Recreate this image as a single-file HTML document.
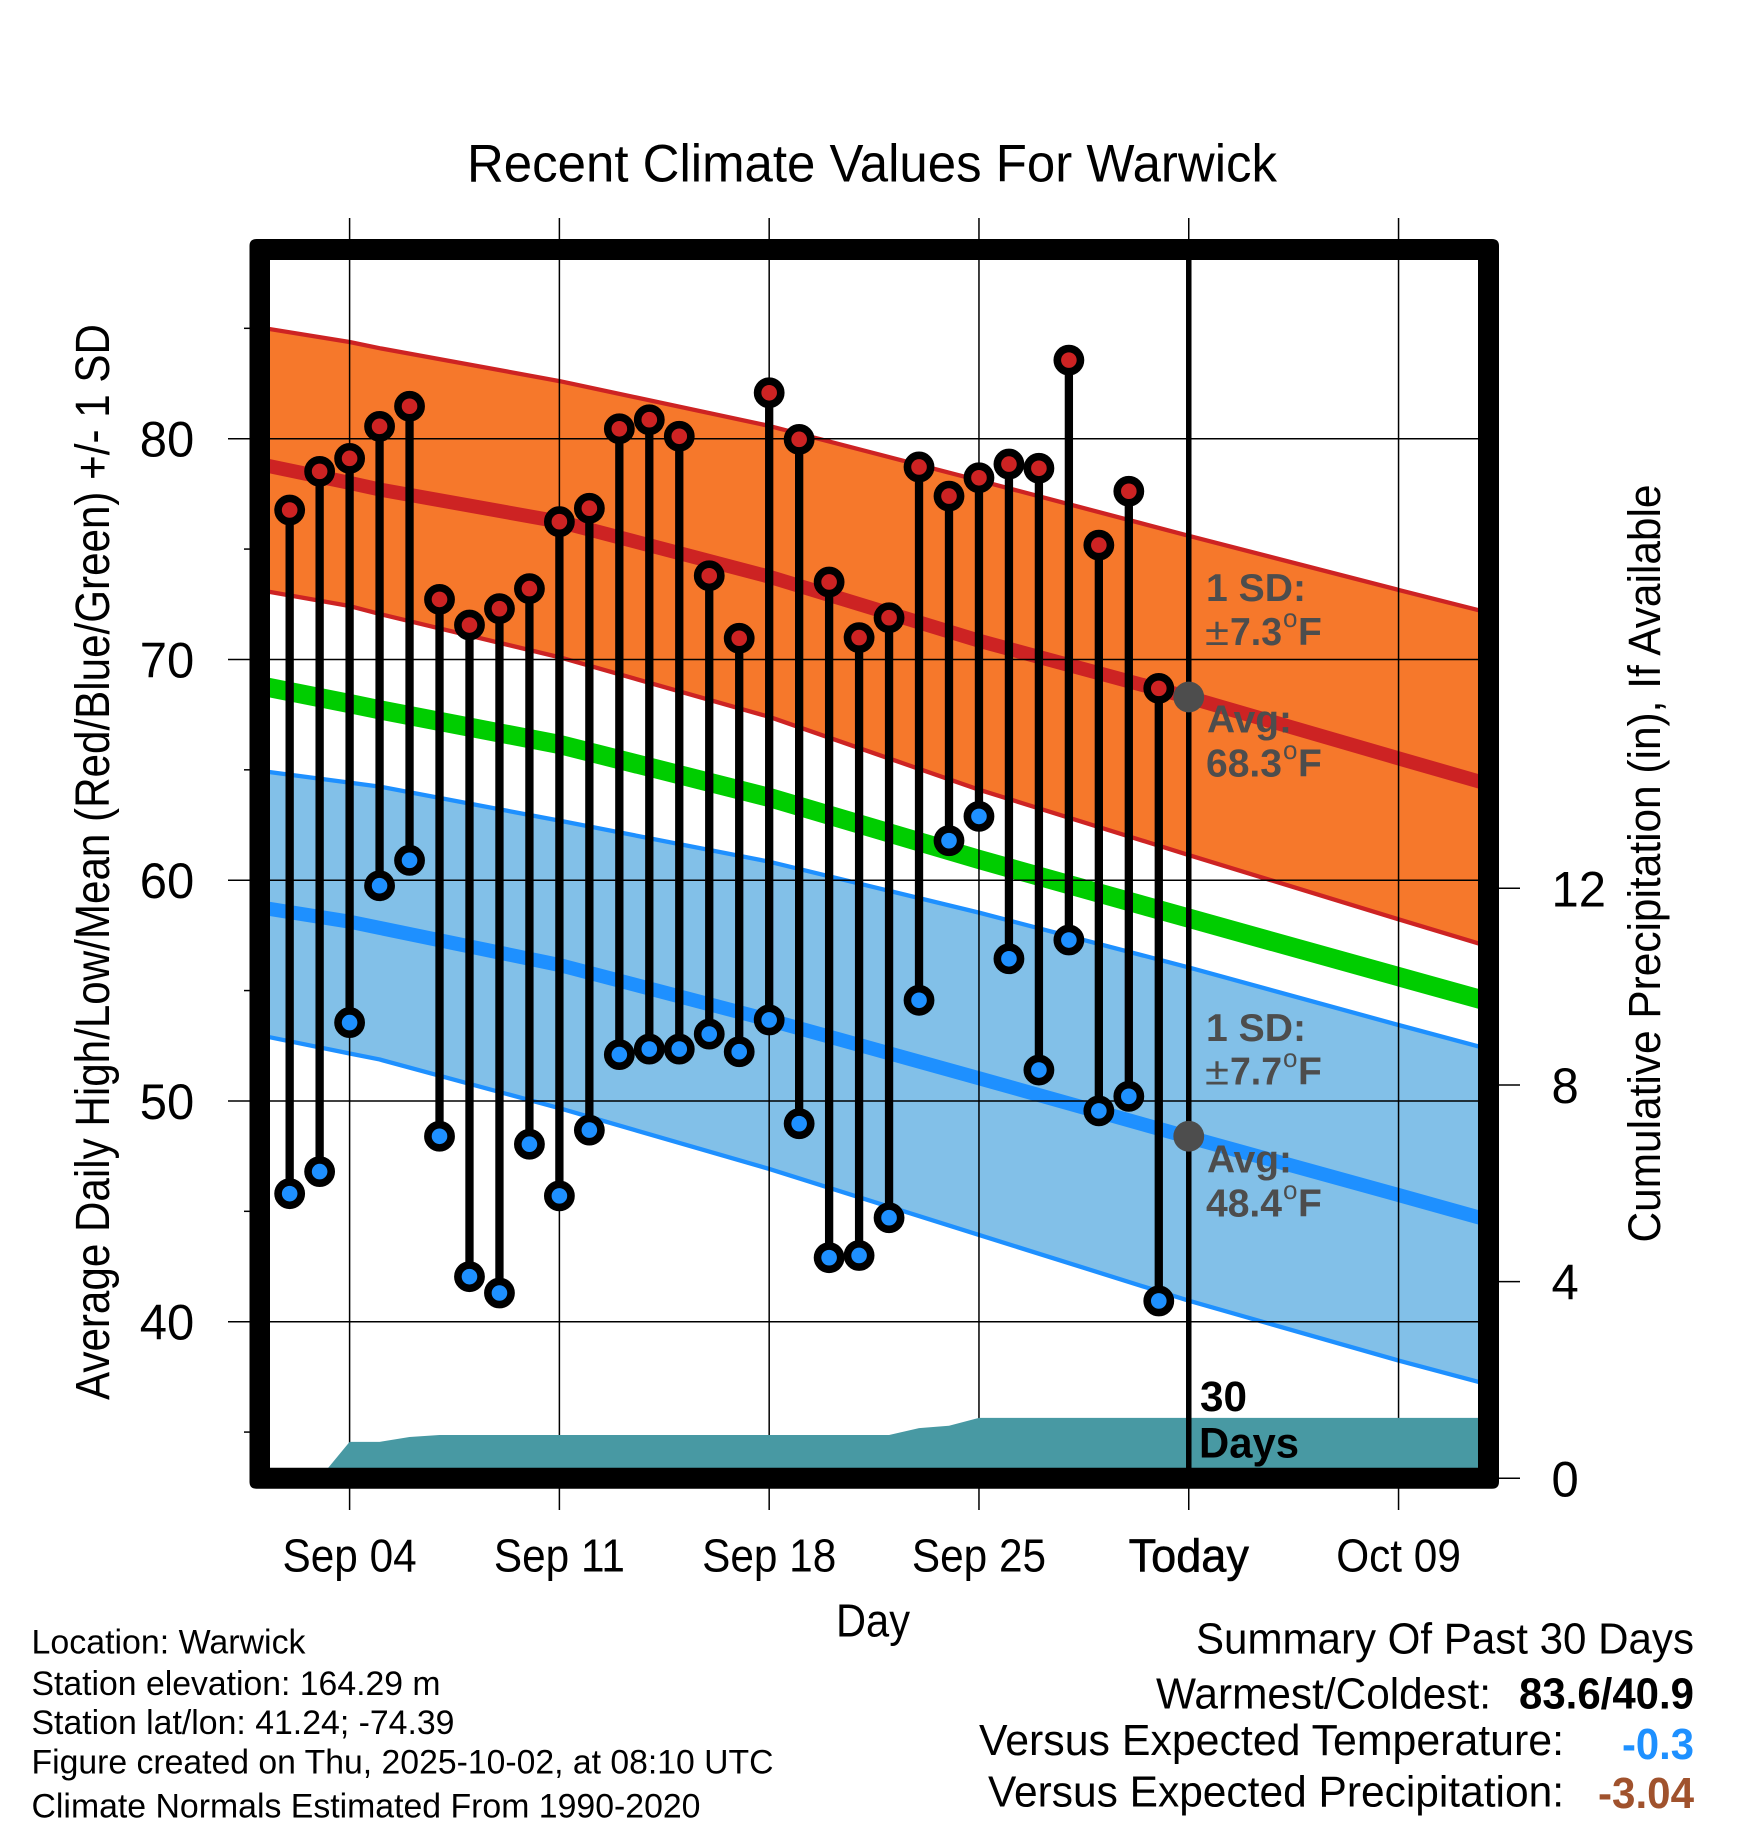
<!DOCTYPE html>
<html lang="en">
<head>
<meta charset="utf-8">
<title>Recent Climate Values For Warwick</title>
<style>
html,body{margin:0;padding:0;background:#fff;}
svg{display:block;}
text{font-family:"Liberation Sans",Arial,sans-serif;fill:#000;}
.b{font-weight:bold;}
.g{fill:#4d4d4d;font-weight:bold;font-size:39px;}
</style>
</head>
<body>
<svg id="chart" xmlns="http://www.w3.org/2000/svg" width="1748" height="1828" viewBox="0 0 1748 1828">
<rect x="0" y="0" width="1748" height="1828" fill="#fff"/>
<g id="bands"></g>
<g id="grid"></g>
<g id="precip"></g>
<g id="today"></g>
<g id="obs"></g>
<g id="frame">
<path fill="#000" fill-rule="evenodd" d="M256.5 239H1492Q1499 239 1499 246V1481.7Q1499 1488.7 1492 1488.7H256.5Q249.5 1488.7 249.5 1481.7V246Q249.5 239 256.5 239ZM270 260V1467.7H1478V260Z"/>
</g>
<g id="ticks"></g>
<g id="labels"></g>

<text x="467" y="181.7" font-size="53" textLength="810" lengthAdjust="spacingAndGlyphs">Recent Climate Values For Warwick</text>
<text transform="translate(109,1400) rotate(-90)" font-size="48" textLength="1076" lengthAdjust="spacingAndGlyphs">Average Daily High/Low/Mean (Red/Blue/Green) +/- 1 SD</text>
<text transform="translate(1660,1242.5) rotate(-90)" font-size="45" textLength="758" lengthAdjust="spacingAndGlyphs">Cumulative Precipitation (in), If Available</text>
<text x="836" y="1636.7" font-size="46" textLength="74" lengthAdjust="spacingAndGlyphs">Day</text>

<g>
<text class="g" x="1206" y="601" textLength="100" lengthAdjust="spacingAndGlyphs">1 SD:</text>
<text class="g" x="1205" y="645" style="font-weight:normal" textLength="24" lengthAdjust="spacingAndGlyphs">±</text>
<text class="g" x="1230" y="645" textLength="52" lengthAdjust="spacingAndGlyphs">7.3</text>
<text class="g" x="1283" y="627" style="font-weight:normal;font-size:26px">o</text>
<text class="g" x="1298" y="645">F</text>
<text class="g" x="1207" y="732.7" textLength="85" lengthAdjust="spacingAndGlyphs">Avg:</text>
<text class="g" x="1206" y="776.7" textLength="76" lengthAdjust="spacingAndGlyphs">68.3</text>
<text class="g" x="1283" y="759" style="font-weight:normal;font-size:26px">o</text>
<text class="g" x="1298" y="776.7">F</text>
</g>
<g>
<text class="g" x="1206" y="1041" textLength="100" lengthAdjust="spacingAndGlyphs">1 SD:</text>
<text class="g" x="1205" y="1084.3" style="font-weight:normal" textLength="24" lengthAdjust="spacingAndGlyphs">±</text>
<text class="g" x="1230" y="1084.3" textLength="52" lengthAdjust="spacingAndGlyphs">7.7</text>
<text class="g" x="1283" y="1067" style="font-weight:normal;font-size:26px">o</text>
<text class="g" x="1298" y="1084.3">F</text>
<text class="g" x="1207" y="1172.7" textLength="85" lengthAdjust="spacingAndGlyphs">Avg:</text>
<text class="g" x="1206" y="1216.7" textLength="76" lengthAdjust="spacingAndGlyphs">48.4</text>
<text class="g" x="1283" y="1199" style="font-weight:normal;font-size:26px">o</text>
<text class="g" x="1298" y="1216.7">F</text>
</g>
<text class="b" x="1200" y="1411" font-size="43" textLength="47" lengthAdjust="spacingAndGlyphs">30</text>
<text class="b" x="1199" y="1457.7" font-size="43" textLength="100" lengthAdjust="spacingAndGlyphs">Days</text>

<g font-size="34">
<text x="31.5" y="1653.5" textLength="274" lengthAdjust="spacingAndGlyphs">Location: Warwick</text>
<text x="31.5" y="1695" textLength="409" lengthAdjust="spacingAndGlyphs">Station elevation: 164.29 m</text>
<text x="31.5" y="1734" textLength="423" lengthAdjust="spacingAndGlyphs">Station lat/lon: 41.24; -74.39</text>
<text x="31.5" y="1773.5" textLength="742" lengthAdjust="spacingAndGlyphs">Figure created on Thu, 2025-10-02, at 08:10 UTC</text>
<text x="31.5" y="1817.3" textLength="669" lengthAdjust="spacingAndGlyphs">Climate Normals Estimated From 1990-2020</text>
</g>
<g font-size="44">
<text x="1196" y="1653.3" textLength="498" lengthAdjust="spacingAndGlyphs">Summary Of Past 30 Days</text>
<text x="1156" y="1708.3" textLength="335" lengthAdjust="spacingAndGlyphs">Warmest/Coldest:</text>
<text class="b" x="1519" y="1708.3" textLength="175" lengthAdjust="spacingAndGlyphs">83.6/40.9</text>
<text x="979" y="1755" textLength="585" lengthAdjust="spacingAndGlyphs">Versus Expected Temperature:</text>
<text class="b" x="1622" y="1759" textLength="72" lengthAdjust="spacingAndGlyphs" style="fill:#1e90ff">-0.3</text>
<text x="988" y="1806.7" textLength="576" lengthAdjust="spacingAndGlyphs">Versus Expected Precipitation:</text>
<text class="b" x="1598" y="1808" textLength="96" lengthAdjust="spacingAndGlyphs" style="fill:#a0522d">-3.04</text>
</g>
</svg>
<script>
// Observed days are day-of-September numbers (Oct 1 = 31).
var obsDays = [2,3,4,5,6,7,8,9,10,11,12,13,14,15,16,17,18,19,20,21,22,23,24,25,26,27,28,29,30,31];
var dailyHigh = [76.77,78.52,79.11,80.56,81.47,72.72,71.56,72.30,73.21,76.24,76.85,80.45,80.86,80.11,73.79,70.96,82.08,79.97,73.51,70.99,71.89,78.72,77.40,78.23,78.85,78.66,83.56,75.18,77.62,68.69];
var dailyLow = [45.8,46.8,53.55,59.75,60.90,48.40,42.04,41.3,48.04,45.7,48.68,52.10,52.35,52.35,53.03,52.23,53.67,48.97,42.9,43.0,44.71,54.56,61.79,62.89,56.44,51.40,57.29,49.55,50.21,40.94];

var normalDays = [1,4,5,11,18,25,32,39,42];
var highUpper = [85.04,84.38,84.1,82.61,80.58,78.11,75.6,73.15,72.12];
var highMean = [78.85,78.0,77.7,76.24,73.75,70.85,68.28,65.52,64.35];
var highLower = [73.14,72.42,72.06,70.1,67.4,64.1,61.14,58.23,57.0];
var meanTemp = [68.81,68.0,67.72,66.15,63.75,60.94,58.28,55.63,54.5];
var lowUpper = [64.96,64.42,64.24,62.7,60.84,58.53,56.05,53.44,52.35];
var lowMean = [58.77,58.12,57.84,56.16,53.67,51.03,48.36,45.74,44.6];
var lowLower = [52.98,52.15,51.88,49.67,46.92,43.93,40.95,38.24,37.15];

var precipDays = [1,3,4,5,6,7,22,23,24,25,42];
var precipValues = [0,0,0.74,0.74,0.84,0.88,0.88,1.02,1.07,1.23,1.23];

var xTickDays = [4,11,18,25,32,39];
var xTickLabels = ["Sep 04","Sep 11","Sep 18","Sep 25","Today","Oct 09"];
var yMajorTicks = [40,50,60,70,80];
var yMinorTicks = [35,45,55,65,75,85];
var precipTicks = [0,4,8,12];
var todayDay = 32;
var todayHighMean = 68.3;
var todayLowMean = 48.4;

function xScale(d){ return 349.6 + (d - 4) * 29.97; }
function yTemp(v){ return 438.7 + (80 - v) * 22.075; }
function yPrecip(v){ return 1478.3 - v * 49.17; }

var NS = "http://www.w3.org/2000/svg";
function make(tag, attrs, parentId){
  var el = document.createElementNS(NS, tag);
  for (var k in attrs) el.setAttribute(k, attrs[k]);
  document.getElementById(parentId).appendChild(el);
  return el;
}
function pointsOf(days, vals, yFn){
  return days.map(function(d,i){ return xScale(d).toFixed(2) + "," + yFn(vals[i]).toFixed(2); });
}
function bandPoints(up, lo){
  return pointsOf(normalDays, up, yTemp).concat(pointsOf(normalDays, lo, yTemp).reverse()).join(" ");
}
function normalLine(vals, color, width){
  return make("polyline", {points: pointsOf(normalDays, vals, yTemp).join(" "), fill:"none", stroke:color, "stroke-width":width, "stroke-linejoin":"round"}, "bands");
}

var el;
el = make("polygon", {points: bandPoints(highUpper, highLower), fill:"#f6782b"}, "bands");


el = make("polygon", {points: bandPoints(lowUpper, lowLower), fill:"#82c0e8"}, "bands");


el = normalLine(highUpper, "#cd2323", 4.3);


el = normalLine(highLower, "#cd2323", 4.3);


el = normalLine(highMean, "#cd2323", 14);


el = normalLine(meanTemp, "#00cd00", 19.2);


el = normalLine(lowUpper, "#1e90ff", 4.3);


el = normalLine(lowLower, "#1e90ff", 4.3);


el = normalLine(lowMean, "#1e90ff", 14);



yMajorTicks.forEach(function(v){
  var y = yTemp(v);
  var g = make("line", {x1:270, x2:1478, y1:y, y2:y, stroke:"#000", "stroke-width":1.5}, "grid");
  
  
  var t = make("line", {x1:228, x2:250, y1:y, y2:y, stroke:"#000", "stroke-width":1.5}, "ticks");
  
  
  var l = make("text", {transform:"translate(167," + (y + 18) + ") scale(0.98,1)", "text-anchor":"middle", "font-size":50}, "labels");
  
  
  l.textContent = String(v);
});
yMinorTicks.forEach(function(v){
  var y = yTemp(v);
  var t = make("line", {x1:244, x2:250, y1:y, y2:y, stroke:"#000", "stroke-width":1.5}, "ticks");
  
  
});
xTickDays.forEach(function(d,i){
  var x = xScale(d);
  var g = make("line", {x1:x, x2:x, y1:260, y2:1467.7, stroke:"#000", "stroke-width":1.5}, "grid");
  
  
  var t1 = make("line", {x1:x, x2:x, y1:218, y2:240, stroke:"#000", "stroke-width":1.5}, "ticks");
  
  
  var t2 = make("line", {x1:x, x2:x, y1:1488, y2:1510, stroke:"#000", "stroke-width":1.5}, "ticks");
  
  
  var isToday = d === todayDay;
  var l = make("text", {transform:"translate(" + x + ",1571.7) scale(" + (isToday ? 0.98 : 0.92) + ",1)", "text-anchor":"middle", "font-size":46}, "labels");
  
  
  l.textContent = xTickLabels[i];
  if (isToday) { l.setAttribute("stroke", "#000"); l.setAttribute("stroke-width", "0.6"); }
});
precipTicks.forEach(function(v){
  var y = yPrecip(v);
  var t = make("line", {x1:1499, x2:1520, y1:y, y2:y, stroke:"#000", "stroke-width":1.5}, "ticks");
  
  
  var l = make("text", {transform:"translate(1551.5," + (y + 18) + ") scale(0.98,1)", "font-size":50}, "labels");
  
  
  l.textContent = String(v);
});

var precipPts = pointsOf(precipDays, precipValues, yPrecip);
precipPts.push(xScale(precipDays[precipDays.length-1]).toFixed(2) + "," + yPrecip(0).toFixed(2));
precipPts.push(xScale(precipDays[0]).toFixed(2) + "," + yPrecip(0).toFixed(2));
el = make("polygon", {points: precipPts.join(" "), fill:"#4899a3"}, "precip");



el = make("line", {x1:xScale(todayDay), x2:xScale(todayDay), y1:260, y2:1468, stroke:"#000", "stroke-width":5.5}, "today");



obsDays.forEach(function(d,i){
  var x = xScale(d);
  var s = make("line", {x1:x, x2:x, y1:yTemp(dailyHigh[i]), y2:yTemp(dailyLow[i]), stroke:"#000", "stroke-width":8.3}, "obs");
  
  
  var h = make("circle", {cx:x, cy:yTemp(dailyHigh[i]), r:11.6, fill:"#cd2323", stroke:"#000", "stroke-width":7.6}, "obs");
  
  
  var b = make("circle", {cx:x, cy:yTemp(dailyLow[i]), r:11.6, fill:"#1e90ff", stroke:"#000", "stroke-width":7.6}, "obs");
  
  
});

el = make("circle", {cx:xScale(todayDay), cy:yTemp(todayHighMean), r:15.4, fill:"#4d4d4d"}, "obs");


el = make("circle", {cx:xScale(todayDay), cy:yTemp(todayLowMean), r:15.4, fill:"#4d4d4d"}, "obs");


</script>
</body>
</html>
